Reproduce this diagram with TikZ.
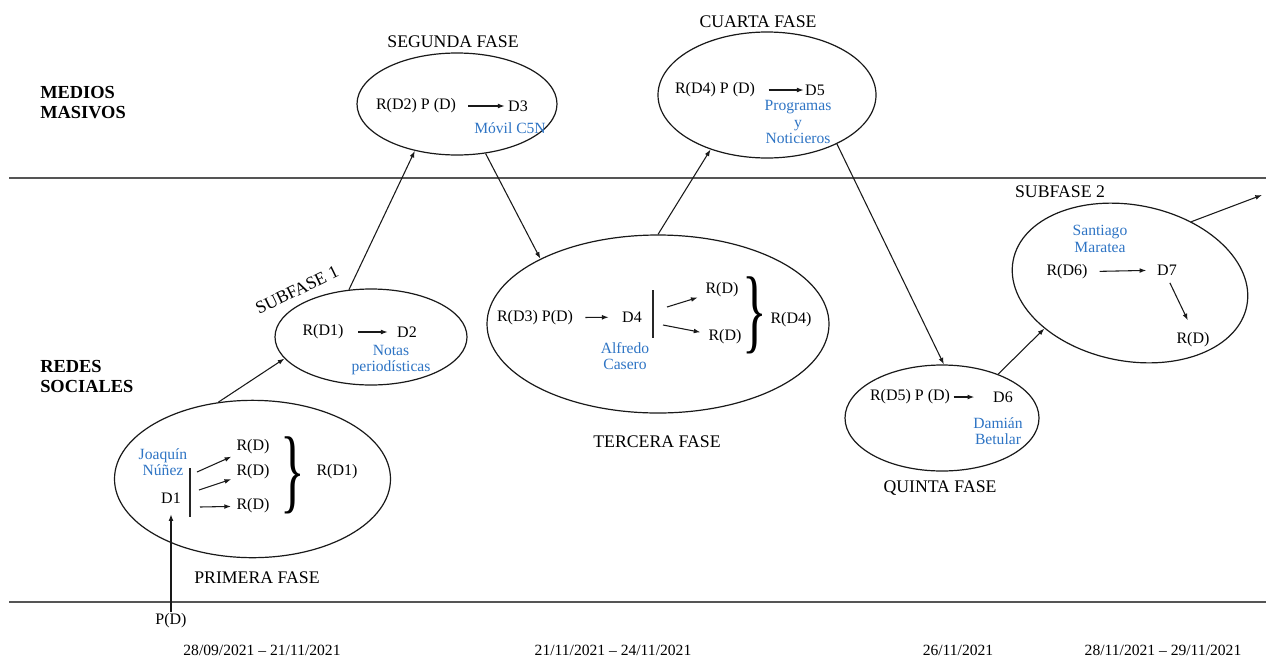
\documentclass[tikz,border=0pt]{standalone}
\usepackage{fontspec}
\usepackage{graphicx}
\setmainfont{Liberation Serif}
\usetikzlibrary{shapes.geometric,arrows.meta}
\definecolor{myblue}{RGB}{46,116,196}
\definecolor{linegray}{RGB}{85,85,85}
\begin{document}
\begin{tikzpicture}[x=0.75pt,y=-0.75pt,
  ell/.style={draw=black!90, line width=0.9pt, shape=ellipse, inner sep=0pt},
  txt/.style={font=\fontsize{12}{13}\selectfont, inner sep=1pt},
  blu/.style={font=\fontsize{11.7}{12.5}\selectfont, text=myblue, align=center, inner sep=1pt},
  lab/.style={font=\fontsize{13.3}{15}\selectfont, inner sep=1pt},
  side/.style={font=\bfseries\fontsize{13.8}{15}\selectfont, align=left, inner sep=0pt, anchor=west},
  conn/.style={draw=black!90, line width=0.8pt, -{Latex[length=5pt,width=3.6pt]}},
  bar/.style={draw=black!85, line width=0.9pt},
  sep/.style={draw=linegray, line width=1.5pt},
  brace/.style={inner sep=0pt, font=\fontsize{70}{70}\selectfont},
  datelab/.style={font=\fontsize{11.7}{13}\selectfont, inner sep=1pt}
]
\useasboundingbox (0,0) rectangle (1266,661);

% separating lines
\draw[sep] (9,178) -- (1266,178);
\draw[sep] (9,602) -- (1266,602);

% side labels
\node[side] (medios) at (40,103) {MEDIOS\\MASIVOS};
\node[side] (redes) at (40,376) {REDES\\SOCIALES};

% ellipses
\node[ell, minimum width=207pt, minimum height=118pt] (e1) at (252.5,479) {};
\node[ell, minimum width=144pt, minimum height=72pt] (e2) at (371,337) {};
\node[ell, minimum width=150pt, minimum height=76.5pt] (e3) at (457,104) {};
\node[ell, minimum width=256.5pt, minimum height=133.5pt] (e4) at (658,324) {};
\node[ell, minimum width=163.5pt, minimum height=94.5pt] (e5) at (767,95) {};
\node[ell, minimum width=145.5pt, minimum height=79.5pt] (e6) at (942,418) {};
\node[ell, minimum width=178.5pt, minimum height=117pt, rotate=-11] (e7) at (1130,283) {};

% phase labels
\node[lab] (l1) at (257,578) {PRIMERA FASE};
\node[lab, rotate=26] (ls1) at (297,290) {SUBFASE 1};
\node[lab] (l2) at (453,42) {SEGUNDA FASE};
\node[lab] (l3) at (657,442) {TERCERA FASE};
\node[lab] (l4) at (758,22) {CUARTA FASE};
\node[lab] (l5) at (940,488) {QUINTA FASE};
\node[lab] (ls2) at (1060,192) {SUBFASE 2};

% ---- primera fase
\node[blu] (jn) at (163,462) {Joaquín\\Núñez};
\node[txt] (d1) at (171,498) {D1};
\draw[bar] (190,468) -- (190,517);
\coordinate (p1s) at (197,472);
\coordinate (p2s) at (199,490);
\coordinate (p3s) at (200,507);
\node[txt] (ra) at (253,447) {R(D)};
\node[txt] (rb) at (253,472) {R(D)};
\node[txt] (rc) at (253,506) {R(D)};
\draw[conn, shorten >=3pt] (p1s) -- (ra);
\draw[conn, shorten >=3pt] (p2s) -- (rb);
\draw[conn, shorten >=3pt] (p3s) -- (rc);
\node[brace] (b1) at (292.5,475) {\scalebox{0.55}[1]{\}}};
\node[txt] (rd1a) at (337,472) {R(D1)};
\node[txt] (pd) at (171,621) {P(D)};
\draw[conn, shorten >=7pt] (pd) -- (d1);

% ---- subfase 1
\node[txt] (rd1) at (323,332) {R(D1)};
\node[txt] (d2) at (407,332) {D2};
\node[blu] (np) at (391,360) {Notas\\periodísticas};
\draw[conn, shorten <=10pt, shorten >=6pt] (rd1) -- (d2);

% ---- segunda fase
\node[txt] (rd2) at (416,106) {R(D2) P (D)};
\node[txt] (d3) at (518,106) {D3};
\node[blu] (mc) at (510,128) {Móvil C5N};
\draw[conn, shorten <=8pt, shorten >=1.5pt] (rd2) -- (d3);

% ---- tercera fase
\node[txt] (rd3) at (535,318) {R(D3) P(D)};
\node[txt] (d4) at (632,317) {D4};
\node[blu] (ac) at (625,356) {Alfredo\\Casero};
\draw[conn, shorten <=8pt, shorten >=9pt] (rd3) -- (d4);
\draw[bar] (653,290) -- (653,338);
\coordinate (t1s) at (667,307);
\coordinate (t2s) at (663,325);
\node[txt] (rta) at (722,290) {R(D)};
\node[txt] (rtb) at (725,337) {R(D)};
\draw[conn, shorten >=5pt] (t1s) -- (rta);
\draw[conn, shorten >=5pt] (t2s) -- (rtb);
\node[brace] (b2) at (755,315) {\scalebox{0.55}[1]{\}}};
\node[txt] (rd4a) at (791,320) {R(D4)};

% ---- cuarta fase
\node[txt] (rd4) at (715,90) {R(D4) P (D)};
\node[txt] (d5) at (815,90) {D5};
\node[blu] (pn) at (798,122) {Programas\\y\\Noticieros};
\draw[conn, shorten <=9pt, shorten >=0pt] (rd4) -- (d5);

% ---- quinta fase
\node[txt] (rd5) at (910,397) {R(D5) P (D)};
\node[txt] (d6) at (1003,397) {D6};
\node[blu] (db) at (998,431) {Damián\\Betular};
\draw[conn, shorten <=1.5pt, shorten >=13pt] (rd5) -- (d6);

% ---- subfase 2
\node[blu] (sm) at (1100,239) {Santiago\\Maratea};
\node[txt] (rd6) at (1067,272) {R(D6)};
\node[txt] (d7) at (1167,270) {D7};
\node[txt] (rd7) at (1193,340) {R(D)};
\draw[conn, shorten <=8pt, shorten >=7pt] (rd6) -- (d7);
\draw[conn, shorten <=5pt, shorten >=9pt] (d7.south) -- (rd7.north);
\coordinate (out7) at (1262,195);

% ---- phase connectors
\draw[conn] (e1.114) -- (e2.194);
\draw[conn] (e2.115) -- (e3.228);
\draw[conn] (e3.300) -- (e4.151);
\draw[conn] (e4.90) -- (e5.224);
\draw[conn] (e5.325) -- (e6.88);
\draw[conn] (e6.38) -- (e7.219);
\draw[conn] (e7.56) -- (out7);

% dates
\node[datelab] (dt1) at (262,650) {28/09/2021 – 21/11/2021};
\node[datelab] (dt2) at (613,650) {21/11/2021 – 24/11/2021};
\node[datelab] (dt3) at (958,650) {26/11/2021};
\node[datelab] (dt4) at (1163,650) {28/11/2021 – 29/11/2021};
\end{tikzpicture}
\end{document}
